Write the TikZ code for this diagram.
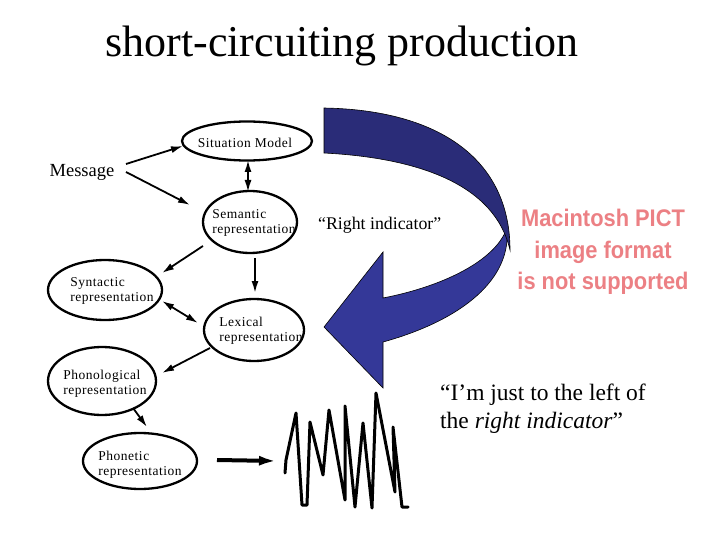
\documentclass[tikz,border=0pt]{standalone}
\usepackage{fontspec}
\setmainfont{Liberation Serif}
\newfontfamily\pictfont{Liberation Sans}
\newfontfamily\nodefnt[LetterSpace=4]{Liberation Serif}
\usetikzlibrary{arrows.meta,shapes.geometric}
\definecolor{arrdark}{RGB}{42,44,120}
\definecolor{arrlight}{RGB}{52,56,152}
\definecolor{pictcol}{RGB}{236,128,132}
\begin{document}
\begin{tikzpicture}[x=1pt,y=-1pt,
  ell/.style={ellipse, draw, line width=2.3pt, inner sep=0pt},
  lbl/.style={inner sep=0pt, align=left, font=\nodefnt\fontsize{13.5}{15}\selectfont},
  arr/.style={line width=1.8pt, -{Latex[length=12pt,width=7pt]}},
  darr/.style={line width=1.8pt, {Latex[length=12pt,width=7pt]}-{Latex[length=12pt,width=7pt]}},
  bigarr/.style={line width=4pt, -{Latex[length=18pt,width=10pt]}},
  wave/.style={line width=3pt, line join=round, line cap=round},
  ribbon/.style={draw=black, line width=0.6pt}]
\useasboundingbox[fill=white] (0,0) rectangle (720,540);

% title
\node[inner sep=0pt, anchor=base, font=\fontsize{44}{50}\selectfont] (title) at (342,57) {short-circuiting production};

% big curved blue arrow
\fill[arrlight, ribbon] (507,228) .. controls (512,285) and (452,323) .. (383,342)
  -- (383,388) -- (324,327) -- (383,252) -- (383,298)
  .. controls (440,287) and (495,262) .. (507,228) -- cycle;
\fill[arrdark, ribbon] (324,108) .. controls (440,110) and (510,160) .. (510,250)
  .. controls (495,185) and (420,158) .. (324,153) -- cycle;

% ellipses
\node[ell, minimum width=130pt, minimum height=39pt] (sit) at (247,141) {};
\node[ell, minimum width=94pt, minimum height=62pt] (sem) at (250,222) {};
\node[ell, minimum width=114pt, minimum height=60pt] (syn) at (105,290) {};
\node[ell, minimum width=100pt, minimum height=62pt] (lex) at (254,330) {};
\node[ell, minimum width=108pt, minimum height=68pt] (phon) at (102,381) {};
\node[ell, minimum width=114pt, minimum height=56pt] (phonet) at (140,461) {};

% texts in ellipses
\node[lbl] (sit-t) at (245,143) {Situation Model};
\node[lbl] (sem-t) at (254,223) {Semantic\\representation};
\node[lbl] (syn-t) at (112,291) {Syntactic\\representation};
\node[lbl] (lex-t) at (261,331) {Lexical\\representation};
\node[lbl] (phon-t) at (105,384) {Phonological\\representation};
\node[lbl] (phonet-t) at (140,465) {Phonetic\\representation};

\node[inner sep=0pt, font=\fontsize{18.5}{20}\selectfont] (msg) at (82,172) {Message};

% connectors
\draw[arr] ([shift={(44,-8)}]msg.center) -- ([shift={(-64,5)}]sit.center);
\draw[arr] ([shift={(44,0)}]msg.center) -- ([shift={(-60,-17)}]sem.center);
\draw[darr] ([shift={(1,19)}]sit.center) -- ([shift={(-2,-30)}]sem.center);
\draw[arr] ([shift={(-47,24)}]sem.center) -- ([shift={(57,-17)}]syn.center);
\draw[arr] ([shift={(5,36)}]sem.center) -- ([shift={(1,-37)}]lex.center);
\draw[darr] ([shift={(57,11)}]syn.center) -- ([shift={(-56,-7)}]lex.center);
\draw[arr] ([shift={(-44,18)}]lex.center) -- ([shift={(60,-8)}]phon.center);
\draw[arr] ([shift={(31,27)}]phon.center) -- ([shift={(7,-34)}]phonet.center);
\coordinate (wv) at (277,461);
\draw[bigarr] ([shift={(77,-1)}]phonet.center) -- (wv);

% waveform
\draw[wave] (285,473) -- (286,460) -- (296,413) -- (302,505) -- (307,505)
  -- (310,422) -- (323,475) -- (329,410) -- (345,500) -- (345,406)
  -- (355,507) -- (363,423) -- (372,508) -- (376,393) -- (395,492)
  -- (393,427) -- (402,507) -- (408,507);

% other texts
\node[inner sep=0pt, anchor=west, font=\fontsize{17.8}{20}\selectfont] (right) at (318,225) {``Right indicator''};
\node[inner sep=0pt, anchor=north west, align=left, font=\fontsize{23.5}{28}\selectfont] (quote) at (440,384)
  {``I'm just to the left of\\the \textit{right indicator}''};
\node[inner sep=0pt, text=pictcol, font=\pictfont\bfseries\fontsize{24}{31.5}\selectfont] (pict) at (603,252)
  {\scalebox{0.91}[1]{\begin{tabular}{@{}c@{}}Macintosh PICT\\image format\\is not supported\end{tabular}}};
\end{tikzpicture}
\end{document}
